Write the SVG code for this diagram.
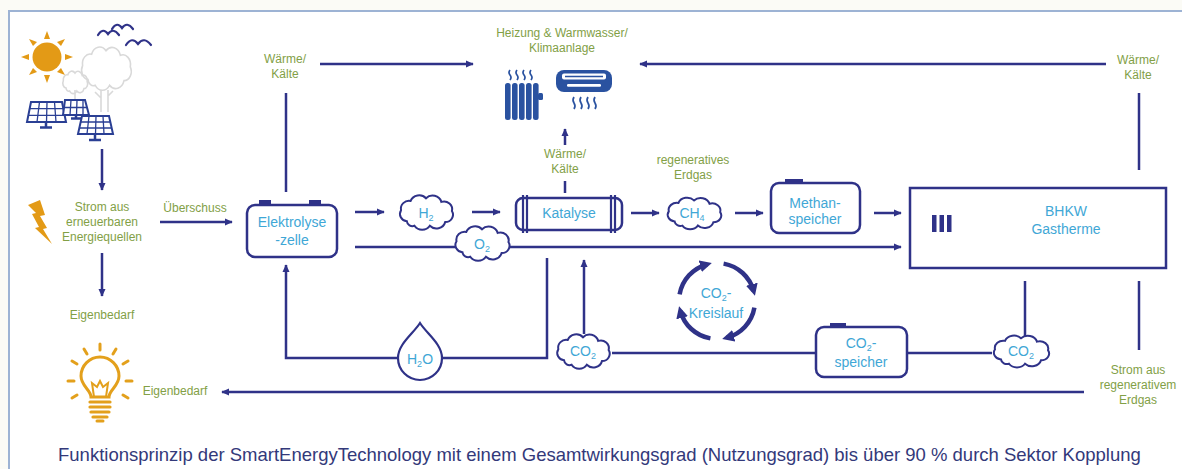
<svg xmlns="http://www.w3.org/2000/svg" xmlns:xlink="http://www.w3.org/1999/xlink" width="1182" height="469" viewBox="0 0 1182 469">
  <style>
    .lbl { font-family: "Liberation Sans", Arial, sans-serif; font-size: 12px; fill: #82a046; text-anchor: middle; }
    .nt { font-family: "Liberation Sans", Arial, sans-serif; font-size: 14px; fill: #3fa7d6; text-anchor: middle; }
    .ln { fill: none; stroke: #2f3288; stroke-width: 2.5; }
    .arr { marker-end: url(#ah); }
    .box { fill: #ffffff; stroke: #2f3288; stroke-width: 2.5; }
    .navy { fill: #2f3288; }
    .cloudshape { fill: #ffffff; stroke: #2f3288; stroke-width: 2; }
    .gold { fill: #e39a16; }
    .goldln { fill: none; stroke: #e3a01c; stroke-width: 3; stroke-linecap: round; }
    .icon { fill: #2a52a0; }
    .wave { fill: none; stroke: #2a52a0; stroke-width: 1.7; }
    .grey { fill: none; stroke: #d9d9d9; stroke-width: 1.6; }
    .cyc { fill: none; stroke: #2f3288; stroke-width: 4.5; marker-end: url(#ahc); }
    .panel { fill: #ffffff; stroke: #2a3f94; stroke-width: 2; }
    .grid { fill: none; stroke: #2a3f94; stroke-width: 1.3; }
  </style>
  <defs>
    <marker id="ah" viewBox="0 0 10 10" refX="9" refY="5" markerWidth="8" markerHeight="8" markerUnits="userSpaceOnUse" orient="auto">
      <path d="M0,0.5 L10,5 L0,9.5 z" fill="#2f3288"/>
    </marker>
    <marker id="ahc" viewBox="0 0 10 10" refX="6" refY="5" markerWidth="12" markerHeight="12" markerUnits="userSpaceOnUse" orient="auto">
      <path d="M0,0 L10,5 L0,10 z" fill="#2f3288"/>
    </marker>
    <path id="cloud" vector-effect="non-scaling-stroke" d="M-20,10 A8,8 0 0 1 -26,-2 A8.5,8.5 0 0 1 -16,-12 A9.5,9.5 0 0 1 0,-15 A9.5,9.5 0 0 1 16,-11 A8.5,8.5 0 0 1 27,-1 A8,8 0 0 1 20,11 A9.5,9.5 0 0 1 4,15 A9.5,9.5 0 0 1 -12,15 A6,6 0 0 1 -20,10 Z"/>
  </defs>

  <!-- page and frame -->
  <rect x="0" y="0" width="1182" height="469" fill="#fbfbf6"/>
  <rect x="9" y="11" width="1175" height="460" fill="#ffffff"/>
  <path d="M9,471 V11 H1182" fill="none" stroke="#9db3d4" stroke-width="2"/>

  <!-- connectors -->
  <g id="connectors">
    <path class="ln arr" d="M102,149 V190"/>
    <path class="ln arr" d="M102,253 V296"/>
    <path class="ln arr" d="M160,222 H232"/>
    <path class="ln" d="M286,192 V93"/>
    <path class="ln arr" d="M320,64 H473"/>
    <path class="ln arr" d="M1106,64 H640"/>
    <path class="ln" d="M1139,93 V170"/>
    <path class="ln arr" d="M355,212 H384"/>
    <path class="ln arr" d="M472,212 H500"/>
    <path class="ln arr" d="M355,247 H901"/>
    <path class="ln" d="M565,193 V181"/>
    <path class="ln arr" d="M565,145 V129"/>
    <path class="ln arr" d="M631,213 H659"/>
    <path class="ln arr" d="M735,213 H763"/>
    <path class="ln arr" d="M874,213 H901"/>
    <path class="ln arr" d="M398,358 H286 V265"/>
    <path class="ln" d="M547,258 V358 H442"/>
    <path class="ln arr" d="M584,334 V260"/>
    <path class="ln" d="M612,353 H992"/>
    <path class="ln" d="M1025,281 V336"/>
    <path class="ln" d="M1139,281 V350"/>
    <path class="ln arr" d="M1084,392 H222"/>
  </g>

  <!-- renewable sources: sun, trees, birds, solar panels -->
  <g id="sources">
    <g id="sun">
      <circle cx="47" cy="57" r="14.5" class="gold"/>
      <g class="gold">
        <path d="M47,31 l-3,8 h6 z"/>
        <path d="M47,83 l-3,-8 h6 z"/>
        <path d="M21,57 l8,-3 v6 z"/>
        <path d="M73,57 l-8,-3 v6 z"/>
        <path d="M29,39 l8,3 l-4,4 z"/>
        <path d="M65,39 l-8,3 l4,4 z"/>
        <path d="M29,75 l8,-3 l-4,-4 z"/>
        <path d="M65,75 l-8,-3 l4,-4 z"/>
      </g>
    </g>
    <g id="trees">
      <use xlink:href="#cloud" class="grey" transform="translate(106,68) scale(0.9,1.15)"/>
      <use xlink:href="#cloud" class="grey" transform="translate(75,82) scale(0.45,0.6)"/>
      <path class="grey" d="M101,90 V112 M108,90 V112 M101,98 l-6,-6 M108,96 l5,-5 M75,90 V100"/>
    </g>
    <g id="birds" fill="none" stroke="#2f3288" stroke-width="2.2" stroke-linecap="round">
      <path d="M98,35 q5,-8 10,-1 q5,-7 11,1"/>
      <path d="M112,29 q5,-8 10,-1 q5,-7 11,1"/>
      <path d="M126,45 q6,-9 12,-1 q6,-8 13,1"/>
    </g>
    <g id="solar">
      <path class="panel" d="M31,102 H62 L66,122 H27 Z"/>
      <path class="grid" d="M29,108.7 H63.3 M28,115.3 H64.7 M39.5,102 L37,122 M47,102 L46.5,122 M54.5,102 L56,122"/>
      <path d="M46,122 V127 M40,127.5 H52" stroke="#2a3f94" stroke-width="2.5"/>
      <path class="panel" d="M65,100 H85 L89,115 H63 Z"/>
      <path class="grid" d="M64,107.5 H87 M71,100 L70,115 M77,100 L76.5,115 M83,100 L83,115"/>
      <path d="M76,115 V118 M71,118.5 H81" stroke="#2a3f94" stroke-width="2.5"/>
      <path class="panel" d="M82,116 H109 L113,134 H78 Z"/>
      <path class="grid" d="M80,122 H111 M79,128 H112 M89,116 L87,134 M96,116 L95.5,134 M103,116 L104,134"/>
      <path d="M95,134 V139 M89,140 H101" stroke="#2a3f94" stroke-width="2.5"/>
    </g>
  </g>

  <g id="strom-erneuerbar">
    <path class="gold" d="M28,205 L40,200 L45,215 L40,216 L47,228 L43,229 L52,244 L35,228 L39,227 L32,214 L36,213 Z"/>
    <text class="lbl" x="102" y="211">Strom aus</text>
    <text class="lbl" x="102" y="226">erneuerbaren</text>
    <text class="lbl" x="102" y="241">Energiequellen</text>
    <text class="lbl" x="195" y="212">Überschuss</text>
  </g>

  <g id="eigenbedarf-oben">
    <text class="lbl" x="102" y="319">Eigenbedarf</text>
  </g>

  <g id="eigenbedarf-unten">
    <g id="bulb">
      <path d="M91,397 C91,390 81,386 81,376 A19,19 0 1 1 119,376 C119,386 109,390 109,397 Z" fill="#ffffff" stroke="#e3a01c" stroke-width="3"/>
      <path d="M94,397 L92,383 L97,387 L100,381 L103,387 L108,383 L106,397" fill="none" stroke="#e3a01c" stroke-width="2"/>
      <path d="M90,402 H110 M90,407 H110 M91,412 H109 M93,417 H107" stroke="#e3a01c" stroke-width="3.2" stroke-linecap="round"/>
      <path d="M97,421 H103" stroke="#e3a01c" stroke-width="3" stroke-linecap="round"/>
      <path class="goldln" d="M100,344 V350 M84,349 l3,5 M116,349 l-3,5 M72,361 l5,3 M128,361 l-5,3 M68,381 h6 M132,381 h-6 M72,398 l5,-3 M128,398 l-5,-3"/>
    </g>
    <text class="lbl" x="175" y="395">Eigenbedarf</text>
  </g>

  <g id="waerme-links">
    <text class="lbl" x="285" y="63">Wärme/</text>
    <text class="lbl" x="285" y="78">Kälte</text>
  </g>

  <g id="heizung">
    <text class="lbl" x="562" y="37">Heizung &amp; Warmwasser/</text>
    <text class="lbl" x="562" y="52">Klimaanlage</text>
    <g id="radiator" class="icon">
      <rect x="505" y="83" width="5.6" height="37" rx="2.5"/>
      <rect x="512" y="83" width="5.6" height="37" rx="2.5"/>
      <rect x="519" y="83" width="5.6" height="37" rx="2.5"/>
      <rect x="526" y="83" width="5.6" height="37" rx="2.5"/>
      <rect x="533" y="83" width="5.6" height="37" rx="2.5"/>
      <rect x="538" y="93" width="5" height="7" rx="1.5"/>
    </g>
    <path class="wave" d="M510,70 q-2,2.5 0,5 q2,2.5 0,5 M517,70 q-2,2.5 0,5 q2,2.5 0,5 M524,70 q-2,2.5 0,5 q2,2.5 0,5 M531,70 q-2,2.5 0,5 q2,2.5 0,5"/>
    <g id="klima">
      <rect x="556" y="70" width="56" height="22" rx="8" class="icon"/>
      <rect x="562" y="73.5" width="44" height="6" rx="2" fill="#ffffff"/>
      <path d="M565,76.5 H603" stroke="#2a52a0" stroke-width="1.6"/>
      <rect x="567" y="84" width="34" height="2.8" rx="1.2" fill="#ffffff"/>
    </g>
    <path class="wave" d="M574,97 q-2,3 0,6 q2,3 0,6 M581,97 q-2,3 0,6 q2,3 0,6 M588,97 q-2,3 0,6 q2,3 0,6 M595,97 q-2,3 0,6 q2,3 0,6"/>
    <text class="lbl" x="565" y="158">Wärme/</text>
    <text class="lbl" x="565" y="173">Kälte</text>
  </g>

  <g id="elektrolyse">
    <rect class="navy" x="259" y="200" width="12" height="6"/>
    <rect class="navy" x="309" y="200" width="12" height="6"/>
    <rect class="box" x="247" y="205" width="90" height="52" rx="8"/>
    <text class="nt" x="292" y="227" font-size="15">Elektrolyse</text>
    <text class="nt" x="292" y="245" font-size="15">-zelle</text>
  </g>

  <g id="h2">
    <use xlink:href="#cloud" class="cloudshape" transform="translate(426,212) scale(0.96,0.92)"/>
    <text class="nt" x="426" y="218">H<tspan font-size="9" dy="3">2</tspan></text>
  </g>

  <g id="o2">
    <use xlink:href="#cloud" class="cloudshape" transform="translate(482,243) scale(0.98,0.92)"/>
    <text class="nt" x="482" y="249">O<tspan font-size="9" dy="3">2</tspan></text>
  </g>

  <g id="katalyse">
    <rect class="box" x="516" y="198" width="106" height="32" rx="7"/>
    <path d="M523,195 V233 M527,195 V233 M611,195 V233 M615,195 V233" stroke="#2f3288" stroke-width="2.2"/>
    <text class="nt" x="569" y="218">Katalyse</text>
  </g>

  <g id="ch4">
    <text class="lbl" x="693" y="164">regeneratives</text>
    <text class="lbl" x="693" y="179">Erdgas</text>
    <use xlink:href="#cloud" class="cloudshape" transform="translate(694,213) scale(0.97,0.84)"/>
    <text class="nt" x="692" y="218">CH<tspan font-size="9" dy="3">4</tspan></text>
  </g>

  <g id="methanspeicher">
    <rect class="navy" x="785" y="179" width="18" height="5"/>
    <rect class="box" x="771" y="183" width="89" height="50" rx="8"/>
    <text class="nt" x="815" y="208">Methan-</text>
    <text class="nt" x="815" y="224">speicher</text>
  </g>

  <g id="bhkw">
    <rect class="box" x="910" y="188" width="256" height="80"/>
    <rect class="navy" x="932" y="215" width="4.5" height="17"/>
    <rect class="navy" x="939.5" y="215" width="4.5" height="17"/>
    <rect class="navy" x="947" y="215" width="4.5" height="17"/>
    <text class="nt" x="1066" y="216">BHKW</text>
    <text class="nt" x="1066" y="234">Gastherme</text>
  </g>

  <g id="waerme-rechts">
    <text class="lbl" x="1138" y="64">Wärme/</text>
    <text class="lbl" x="1138" y="79">Kälte</text>
  </g>

  <g id="strom-regenerativ">
    <text class="lbl" x="1138" y="374">Strom aus</text>
    <text class="lbl" x="1138" y="389">regenerativem</text>
    <text class="lbl" x="1138" y="404">Erdgas</text>
  </g>

  <g id="co2-kreislauf">
    <path class="cyc" d="M679.6,294.4 A38,38 0 0 1 707.2,264.3"/>
    <path class="cyc" d="M723.6,263.6 A38,38 0 0 1 753.7,291.2"/>
    <path class="cyc" d="M754.4,307.6 A38,38 0 0 1 726.8,337.7"/>
    <path class="cyc" d="M710.4,338.4 A38,38 0 0 1 680.3,310.8"/>
    <text class="nt" x="716" y="298">CO<tspan font-size="9" dy="3">2</tspan><tspan dy="-3">-</tspan></text>
    <text class="nt" x="716" y="318">Kreislauf</text>
  </g>

  <g id="h2o">
    <path d="M420,323 C413,334 398,344 398,358 A22,22 0 0 0 442,358 C442,344 427,334 420,323 Z" fill="#ffffff" stroke="#2f3288" stroke-width="2.2"/>
    <text class="nt" x="420" y="364">H<tspan font-size="9" dy="3">2</tspan><tspan dy="-3">O</tspan></text>
  </g>

  <g id="co2-links">
    <use xlink:href="#cloud" class="cloudshape" transform="translate(583,351) scale(0.95,0.92)"/>
    <text class="nt" x="583" y="356">CO<tspan font-size="9" dy="3">2</tspan></text>
  </g>

  <g id="co2-speicher">
    <rect class="navy" x="830" y="323" width="16" height="5"/>
    <rect class="box" x="816" y="327" width="91" height="50" rx="8"/>
    <text class="nt" x="861" y="348">CO<tspan font-size="9" dy="3">2</tspan><tspan dy="-3">-</tspan></text>
    <text class="nt" x="861" y="367">speicher</text>
  </g>

  <g id="co2-rechts">
    <use xlink:href="#cloud" class="cloudshape" transform="translate(1021,351) scale(1.0,0.85)"/>
    <text class="nt" x="1021" y="356">CO<tspan font-size="9" dy="3">2</tspan></text>
  </g>

  <text id="caption" x="58" y="461" font-family="Liberation Sans, Arial, sans-serif" font-size="18.5" fill="#33397a">Funktionsprinzip der SmartEnergyTechnology mit einem Gesamtwirkungsgrad (Nutzungsgrad) bis über 90 % durch Sektor Kopplung</text>
</svg>
